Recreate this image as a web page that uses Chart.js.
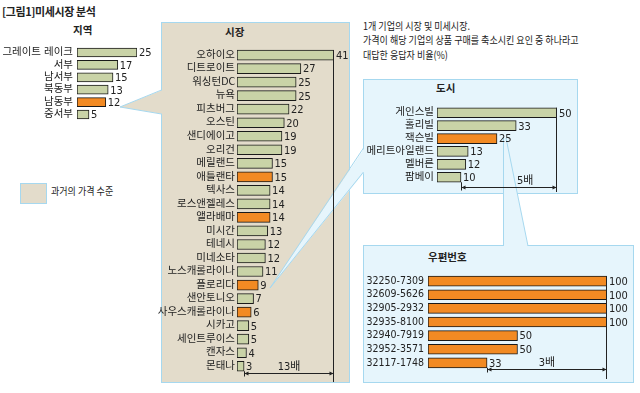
<!DOCTYPE html>
<html>
<head>
<meta charset="utf-8">
<script src="https://cdn.jsdelivr.net/npm/chart.js@4.4.0/dist/chart.umd.min.js"></script>
<style>
html, body { margin: 0; padding: 0; background: #fff; }
#stage { position: relative; width: 640px; height: 393px; overflow: hidden; font-family: 'Noto Sans CJK KR', sans-serif; color: #222; }
#stage svg { position: absolute; left: 0; top: 0; }
.t { position: absolute; white-space: nowrap; line-height: 1; }
.b { font-weight: bold; }
.c { transform: scaleX(0.86); transform-origin: left top; }
canvas { position: absolute; }
</style>
</head>
<body>
<div id="stage">
  <svg width="640" height="393">
    <!-- market panel (past price level) -->
    <rect x="161.5" y="22.5" width="188" height="360" fill="#e3dccb" stroke="#a6d8ef"/>
    <polygon points="120,107 162.5,90 162.5,114" fill="#e3dccb"/>
    <polyline points="161.5,90 120,107 161.5,114" fill="none" stroke="#a6d8ef"/>
    <!-- city / zip panels -->
    <rect x="363.5" y="79.5" width="214" height="114" fill="#e6f5fc" stroke="#a6d8ef"/>
    <rect x="363.5" y="245.5" width="270" height="137" fill="#e6f5fc" stroke="#a6d8ef"/>
    <polygon points="364.5,148 270,288 364.5,172" fill="#e6f5fc"/>
    <polyline points="363.5,148 270,288 363.5,172" fill="none" stroke="#a6d8ef"/>
    <polygon points="503.5,138 506,138 528,246.5 503.5,246.5" fill="#e6f5fc"/>
    <polyline points="503.5,246 503.5,138" fill="none" stroke="#a6d8ef"/>
    <polyline points="506,138 528,246" fill="none" stroke="#a6d8ef"/>
    <!-- legend swatch -->
    <rect x="20.5" y="183.5" width="26" height="20" fill="#e3dccb" stroke="#a6d8ef"/>
  </svg>

  <div class="t b" style="left:2px;top:6px;font-size:11px;letter-spacing:-0.4px;">[그림1]미세시장 분석</div>
  <div class="t b" style="left:73px;top:25px;font-size:10.5px;">지역</div>
  <div class="t b" style="left:225px;top:27px;font-size:10.5px;">시장</div>
  <div class="t b" style="left:436px;top:83px;font-size:10.5px;">도시</div>
  <div class="t b" style="left:428px;top:252px;font-size:10.5px;">우편번호</div>
  <div class="t c" style="left:363px;top:21px;font-size:10.5px;">1개 기업의 시장 및 미세시장.</div>
  <div class="t c" style="left:363px;top:35px;font-size:10.5px;">가격이 해당 기업의 상품 구매를 축소시킨 요인 중 하나라고</div>
  <div class="t c" style="left:363px;top:50px;font-size:10.5px;">대답한 응답자 비율(%)</div>
  <div class="t c" style="left:51px;top:186px;font-size:10.5px;">과거의 가격 수준</div>

  <canvas id="region" width="162" height="95" style="left:0px;top:36px;"></canvas>
  <canvas id="market" width="212" height="343" style="left:140px;top:40px;"></canvas>
  <canvas id="city" width="212" height="96" style="left:363px;top:97px;"></canvas>
  <canvas id="zip" width="266" height="116" style="left:363px;top:264px;"></canvas>
</div>

<script>
// 지역
const regionLabels = ['그레이트 레이크', '서부', '남서부', '북동부', '남동부', '중서부'];
const regionValues = [25, 17, 15, 13, 12, 5];
const regionHighlight = ['남동부'];

// 시장
const marketLabels = ['오하이오', '디트로이트', '워싱턴DC', '뉴욕', '피츠버그', '오스틴', '샌디에이고', '오리건',
    '메릴랜드', '애틀랜타', '텍사스', '로스앤젤레스', '앨라배마', '미시간', '테네시', '미네소타',
    '노스캐롤라이나', '플로리다', '샌안토니오', '사우스캐롤라이나', '시카고', '세인트루이스', '캔자스', '몬태나'];
const marketValues = [41, 27, 25, 25, 22, 20, 19, 19, 15, 15, 14, 14, 14, 13, 12, 12, 11, 9, 7, 6, 5, 5, 4, 3];
const marketHighlight = ['애틀랜타', '앨라배마', '플로리다', '사우스캐롤라이나'];

// 도시
const cityLabels = ['게인스빌', '홀리빌', '잭슨빌', '메리트아일랜드', '멜버른', '팜베이'];
const cityValues = [50, 33, 25, 13, 12, 10];
const cityHighlight = ['잭슨빌'];

// 우편번호
const zipLabels = ['32250-7309', '32609-5626', '32905-2932', '32935-8100', '32940-7919', '32952-3571', '32117-1748'];
const zipValues = [100, 100, 100, 100, 50, 50, 33];
const zipHighlight = zipLabels;

const GREEN = '#c9d3a7';
const ORANGE = '#f28a23';
const NUM_FONT = '"Liberation Sans Narrow", "DejaVu Sans Condensed", "Liberation Sans", "Noto Sans CJK KR", sans-serif';

// value printed at the end of each bar
const valueLabels = {
    id: 'valueLabels',
    afterDatasetsDraw(chart) {
        const ctx = chart.ctx;
        const values = chart.data.datasets[0].data;
        ctx.save();
        ctx.font = '11px ' + NUM_FONT;
        ctx.fillStyle = '#222';
        ctx.textBaseline = 'middle';
        chart.getDatasetMeta(0).data.forEach((bar, i) => {
            ctx.fillText(values[i], bar.x + 2, bar.y + 1);
        });
        ctx.restore();
    }
};

// "N배" span: line under the largest bar and arrow from the smallest
const spanNote = {
    id: 'spanNote',
    afterDraw(chart, args, opts) {
        if (!opts || opts.to == null) return;
        const { ctx, chartArea } = chart;
        const xs = chart.scales.x;
        const bars = chart.getDatasetMeta(0).data;
        const first = bars[0];
        const last = bars[bars.length - 1];
        const x1 = Math.round(xs.getPixelForValue(opts.from)) + 0.5;
        const x2 = Math.round(xs.getPixelForValue(opts.to)) - 0.5;
        const ay = Math.round(chartArea.bottom + opts.arrowOffset) + 0.5;
        ctx.save();
        ctx.strokeStyle = '#222';
        ctx.fillStyle = '#222';
        ctx.lineWidth = 1;
        ctx.beginPath();
        ctx.moveTo(x2, first.y - first.height / 2);
        ctx.lineTo(x2, chart.height - 1);
        ctx.moveTo(x1, last.y + last.height / 2);
        ctx.lineTo(x1, ay + 3);
        ctx.moveTo(x1, ay);
        ctx.lineTo(x2, ay);
        ctx.stroke();
        // arrow heads
        ctx.beginPath();
        ctx.moveTo(x1, ay); ctx.lineTo(x1 + 4, ay - 2); ctx.lineTo(x1 + 4, ay + 2); ctx.closePath();
        ctx.moveTo(x2, ay); ctx.lineTo(x2 - 4, ay - 2); ctx.lineTo(x2 - 4, ay + 2); ctx.closePath();
        ctx.fill();
        ctx.font = '11px ' + NUM_FONT;
        ctx.textAlign = 'center';
        ctx.textBaseline = 'bottom';
        ctx.fillText(opts.text, x1 + (x2 - x1) * opts.textAt, ay - 1);
        ctx.restore();
    }
};

function makeBars(id, labels, values, highlight, cfg) {
    const ctx = document.getElementById(id).getContext('2d');
    return new Chart(ctx, {
        type: 'bar',
        data: {
            labels: labels,
            datasets: [{
                data: values,
                backgroundColor: labels.map(l => highlight.includes(l) ? ORANGE : GREEN),
                borderColor: '#1a1a1a',
                borderWidth: 1,
                borderSkipped: false,
                barThickness: cfg.thickness
            }]
        },
        options: {
            indexAxis: 'y',
            responsive: false,
            animation: false,
            devicePixelRatio: 1,
            layout: { padding: { left: 0, top: 0, right: cfg.padRight, bottom: cfg.padBottom } },
            scales: {
                x: { display: false, min: 0, max: cfg.max },
                y: {
                    grid: { display: false, drawTicks: false },
                    border: { display: false },
                    ticks: {
                        autoSkip: false,
                        padding: cfg.tickPad,
                        color: '#222',
                        font: { family: NUM_FONT, size: 10.5 }
                    },
                    afterFit: scale => { scale.width = cfg.axisWidth; }
                }
            },
            plugins: {
                legend: { display: false },
                tooltip: { enabled: false },
                spanNote: cfg.span || {}
            }
        },
        plugins: [valueLabels, spanNote]
    });
}

makeBars('region', regionLabels, regionValues, regionHighlight,
    { axisWidth: 77, max: 25, padRight: 25, padBottom: 0, tickPad: 4, thickness: 9 });

makeBars('market', marketLabels, marketValues, marketHighlight,
    { axisWidth: 97, max: 41, padRight: 18, padBottom: 10, tickPad: 2, thickness: 10,
      span: { from: 3, to: 41, text: '13배', arrowOffset: 0, textAt: 0.5 } });

makeBars('city', cityLabels, cityValues, cityHighlight,
    { axisWidth: 74, max: 50, padRight: 18, padBottom: 8, tickPad: 3, thickness: 10,
      span: { from: 10, to: 50, text: '5배', arrowOffset: 3, textAt: 0.67 } });

makeBars('zip', zipLabels, zipValues, zipHighlight,
    { axisWidth: 65, max: 100, padRight: 22, padBottom: 3, tickPad: 4, thickness: 10,
      span: { from: 33, to: 100, text: '3배', arrowOffset: -1, textAt: 0.5 } });
</script>
</body>
</html>
